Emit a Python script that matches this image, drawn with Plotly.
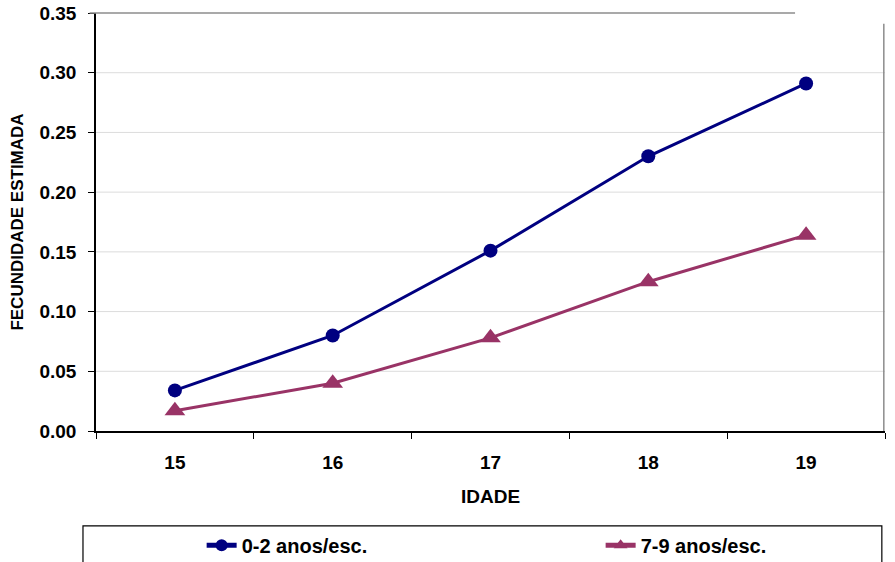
import plotly.graph_objects as go

# Estimated fecundity by age and years of schooling
idade = [15, 16, 17, 18, 19]
esc_0_2 = [0.034, 0.080, 0.151, 0.230, 0.291]
esc_7_9 = [0.017, 0.040, 0.078, 0.125, 0.164]
y_ticks = [0.00, 0.05, 0.10, 0.15, 0.20, 0.25, 0.30, 0.35]
y_ticktext = ["0.00", "0.05", "0.10", "0.15", "0.20", "0.25", "0.30", "0.35"]

FONT = "Liberation Sans, Arial, sans-serif"
LEGEND_FONT = dict(family=FONT, size=20, weight="bold", color="black")

fig = go.Figure()
fig.add_trace(go.Scatter(
    x=idade, y=esc_0_2, name="0-2 anos/esc.", mode="lines+markers",
    line=dict(color="#000080", width=3),
    marker=dict(symbol="circle", size=14, color="#000080"),
    legend="legend",
))
fig.add_trace(go.Scatter(
    x=idade, y=esc_7_9, name="7-9 anos/esc.", mode="lines+markers",
    line=dict(color="#993366", width=3),
    marker=dict(symbol="triangle-up", size=18, color="#993366"),
    legend="legend2",
))

shapes = []
# horizontal gridlines
for v in y_ticks[1:-1]:
    shapes.append(dict(type="line", xref="paper", yref="y", x0=0, x1=1, y0=v, y1=v,
                       line=dict(color="#dcdcdc", width=1), layer="below"))
# partial frame at top and right
shapes.append(dict(type="line", xref="paper", yref="paper", x0=-0.008, x1=0.886, y0=1, y1=1,
                   line=dict(color="#8c8c8c", width=1.5)))
shapes.append(dict(type="line", xref="paper", yref="paper", x0=0.9985, x1=0.9985, y0=0, y1=0.974,
                   line=dict(color="#8c8c8c", width=1.5)))
# legend box
shapes.append(dict(type="rect", xref="paper", yref="paper", x0=-0.0165, x1=0.996, y0=-0.227, y1=-0.40,
                   line=dict(color="#000000", width=1.2), fillcolor="rgba(0,0,0,0)"))

legend_common = dict(orientation="h", xref="container", yref="container", y=0.0645,
                     xanchor="left", yanchor="top", itemsizing="constant",
                     font=LEGEND_FONT, bgcolor="rgba(0,0,0,0)", borderwidth=0)

fig.update_layout(
    width=895, height=562,
    margin=dict(l=96, r=10, t=13, b=131, autoexpand=False),
    paper_bgcolor="white", plot_bgcolor="white",
    font=dict(family=FONT, color="black"),
    showlegend=True,
    legend=dict(x=0.2253, **legend_common),
    legend2=dict(x=0.6711, **legend_common),
    shapes=shapes,
    xaxis=dict(
        range=[14.5, 19.5], tickvals=idade, ticktext=[str(a) for a in idade],
        ticks="", showgrid=False, zeroline=False, automargin=False,
        showline=True, linecolor="black", linewidth=1.5,
        tickfont=dict(family=FONT, size=19, weight="bold", color="black"),
        ticklabelstandoff=13,
        minor=dict(tickmode="linear", tick0=14.5, dtick=1, ticks="outside", ticklen=6,
                   tickcolor="black", tickwidth=1, showgrid=False),
        title=dict(text="IDADE", font=dict(family=FONT, size=19, weight="bold", color="black"),
                   standoff=18),
    ),
    yaxis=dict(
        range=[0, 0.35], tickvals=y_ticks, ticktext=y_ticktext,
        ticks="outside", ticklen=6, tickcolor="black", tickwidth=1,
        showgrid=False, zeroline=False, automargin=False,
        showline=True, linecolor="black", linewidth=1.5,
        tickfont=dict(family=FONT, size=19, weight="bold", color="black"),
        ticklabelstandoff=8,
        title=dict(text="FECUNDIDADE ESTIMADA",
                   font=dict(family=FONT, size=17, weight="bold", color="black"),
                   standoff=12),
    ),
)

fig.write_html("out.html")
